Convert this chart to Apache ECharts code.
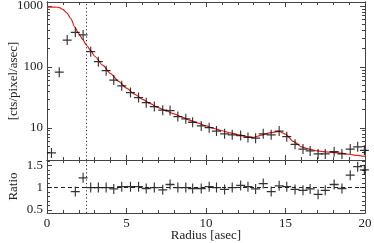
<!DOCTYPE html>
<html><head><meta charset="utf-8">
<script src="https://cdn.jsdelivr.net/npm/echarts@6/dist/echarts.min.js"></script>
<style>html,body{margin:0;padding:0;background:#fff}#c{width:374px;height:243px}</style>
</head><body><div id="c"></div>
<script>
// Radius bin centres (asec)
var radius = [0.28,0.77,1.27,1.78,2.27,2.75,3.23,3.72,4.20,4.70,5.25,5.76,6.24,6.75,7.28,7.74,8.23,8.73,9.16,9.70,10.20,10.66,11.17,11.65,12.18,12.64,13.12,13.60,14.10,14.60,15.08,15.60,16.10,16.55,17.05,17.50,18.06,18.55,19.07,19.54,19.96];
// Surface brightness [cts/pixel/asec]
var counts = [3.9,82,277,371,335,178,122,87,61,49,38,31.5,26,22.4,19.6,19.3,15.4,14.1,12.4,10.8,10.1,8.9,8.0,7.7,7.5,7.0,6.8,8.0,7.7,8.9,7.2,5.4,4.5,4.2,3.75,3.75,4.07,3.75,4.5,4.9,4.3];
// Data / model ratio (null = off scale)
var ratio = [null,null,null,0.91,1.22,1.0,1.0,1.0,0.97,1.02,1.02,1.02,0.98,1.0,0.95,1.07,1.0,1.0,0.98,0.98,1.02,1.0,0.96,1.0,1.05,1.02,0.97,1.09,0.91,1.04,1.02,0.96,0.94,0.97,0.85,0.94,1.07,0.98,1.28,1.47,1.40];
// Model curve
var modelX = [0,0.5,0.75,1.0,1.25,1.5,1.75,2.0,2.25,2.5,2.75,3.0,3.5,4.0,4.5,5.0,5.5,6.0,6.5,7.0,7.5,8.0,8.5,9.0,9.5,10,10.5,11,11.5,12,12.5,13,13.5,14,14.6,15.0,15.5,16,16.5,17,17.5,18,18.5,19,19.5,20];
var modelY = [960,960,950,880,770,620,450,350,280,225,185,150,107,78,58,45,36,29.5,25,21.5,19,17,15,13.3,12,10.8,9.8,9.0,8.3,7.8,7.3,7.0,7.6,8.3,8.8,7.9,6.0,4.9,4.5,4.2,4.05,3.95,3.85,3.7,3.55,3.4];
var xTickLabels = ['0','5','10','15','20'];
var yTopMajor = [10,100,1000];
var ratioMajor = [0.5,1,1.5];
var cutRadius = 2.45;

var L = Math.log10;
var FONT = 'Liberation Serif';
var AX = '#444';
var topMin = L(2.98), topMax = L(1164);
var rMin = 0.43, rMax = 1.62;
var topMinors = [];
[1,10,100].forEach(function(d){ for (var k=2;k<=9;k++){ var v=L(k*d); if (v>topMin && v<topMax) topMinors.push(v);} });
var rMinors = [];
for (var r=0.5; r<=1.6001; r+=0.1) rMinors.push(Math.round(r*10)/10);

function xAx(grid, pos, labels, name) {
  return {type:'value', gridIndex:grid, position:pos, min:0, max:20, interval:5,
    axisLine:{show:true, onZero:false, lineStyle:{color:AX, width:1}},
    axisTick:{show:true, inside:true, length:5, lineStyle:{color:AX}},
    minorTick:{show:true, splitNumber:5, length:3, lineStyle:{color:AX}},
    splitLine:{show:false}, minorSplitLine:{show:false},
    axisLabel:{show:labels, margin:4, hideOverlap:false, showMinLabel:true, showMaxLabel:true,
      color:'#222', fontFamily:FONT, fontSize:13,
      formatter:function(v){ var i=Math.round(v/5); return xTickLabels[i]; }},
    name: name || '', nameLocation:'middle', nameGap:16, nameMoveOverlap:false,
    nameTextStyle:{color:'#222', fontFamily:FONT, fontSize:13, verticalAlign:'top'}
  };
}
function yAx(grid, pos, mn, mx, ticks, len, labels, fmt, name) {
  return {type:'value', gridIndex:grid, position:pos, min:mn, max:mx,
    axisLine:{show:true, onZero:false, lineStyle:{color:AX, width:1}},
    axisTick:{show:true, inside:true, length:len, customValues:ticks, lineStyle:{color:AX}},
    splitLine:{show:false},
    axisLabel:{show:labels, customValues:ticks, margin:4, hideOverlap:false,
      color:'#222', fontFamily:FONT, fontSize:13, formatter:fmt},
    name: name || '', nameLocation:'middle', nameGap:27, nameRotate:90, nameMoveOverlap:false,
    nameTextStyle:{color:'#222', fontFamily:FONT, fontSize:13}
  };
}
var topMajorLog = yTopMajor.map(L);
var fmtTop = function(v){ return String(Math.round(Math.pow(10,v))); };
var fmtR = function(v){ return String(Math.round(v*10)/10); };

var plus = 'path://M5,0L5,10M0,5L10,5';
var topData = radius.map(function(x,i){ return [x, L(counts[i])]; });
var ratioData = [];
radius.forEach(function(x,i){ if (ratio[i]!==null) ratioData.push([x, ratio[i]]); });
var modelData = modelX.map(function(x,i){ return [x, L(modelY[i])]; });

var chart = echarts.init(document.getElementById('c'), null, {renderer:'canvas'});
chart.setOption({
  animation:false,
  backgroundColor:'#fff',
  grid:[{left:47, right:9, top:2, height:158, containLabel:false, outerBoundsMode:'none'},
        {left:47, right:9, top:160, height:53, containLabel:false, outerBoundsMode:'none'}],
  xAxis:[xAx(0,'bottom',false), xAx(0,'top',false), xAx(1,'bottom',true,'Radius [asec]'), xAx(1,'top',false)],
  yAxis:[
    yAx(0,'left',topMin,topMax,topMajorLog,5,true,fmtTop,'[cts/pixel/asec]'),
    yAx(0,'left',topMin,topMax,topMinors,3,false,fmtTop),
    yAx(0,'right',topMin,topMax,topMajorLog,5,false,fmtTop),
    yAx(0,'right',topMin,topMax,topMinors,3,false,fmtTop),
    yAx(1,'left',rMin,rMax,ratioMajor,5,true,fmtR,'Ratio'),
    yAx(1,'left',rMin,rMax,rMinors,3,false,fmtR),
    yAx(1,'right',rMin,rMax,ratioMajor,5,false,fmtR),
    yAx(1,'right',rMin,rMax,rMinors,3,false,fmtR)
  ],
  series:[
    {type:'line', xAxisIndex:0, yAxisIndex:0, data:modelData, smooth:0.25, smoothMonotone:'x', showSymbol:false, symbol:'none',
      lineStyle:{color:'#e8201c', width:1.2}, clip:true, z:2,
      markLine:{silent:true, symbol:['none','none'], label:{show:false},
        lineStyle:{type:[1.2,2.4], color:'#333', width:1}, data:[{xAxis:cutRadius}]}},
    {type:'scatter', xAxisIndex:0, yAxisIndex:0, data:topData, symbol:plus, symbolSize:[9,10],
      itemStyle:{color:'none', borderColor:'#000', borderWidth:1.2}, z:3},
    {type:'scatter', xAxisIndex:2, yAxisIndex:4, data:ratioData, symbol:plus, symbolSize:[9,10],
      itemStyle:{color:'none', borderColor:'#000', borderWidth:1.2}, z:3,
      markLine:{silent:true, symbol:['none','none'], label:{show:false},
        data:[{xAxis:cutRadius, lineStyle:{type:[1.2,2.4], color:'#333', width:1}},
              {yAxis:1, lineStyle:{type:[4,3], color:'#222', width:1}}]}}
  ]
});
</script></body></html>
